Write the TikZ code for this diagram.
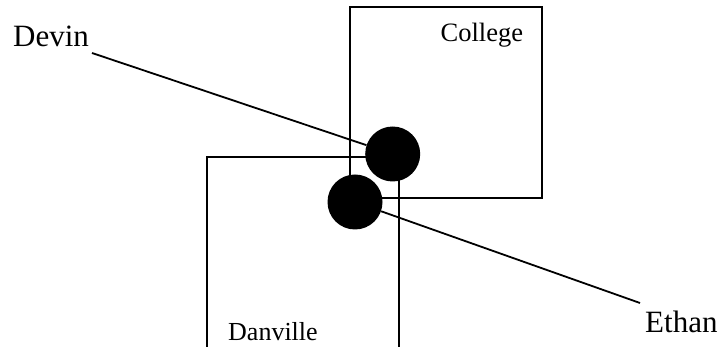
\documentclass[tikz,border=0pt]{standalone}
\usepackage{fontspec}
\setmainfont{Liberation Serif}
\begin{document}
\begin{tikzpicture}[x=1pt,y=-1pt,
  box/.style={line width=1.8pt},
  link/.style={line width=1.8pt},
  person/.style={circle,fill=black,inner sep=0pt,minimum size=55pt},
  lbl/.style={inner sep=0pt,anchor=base west}]
\useasboundingbox (0,0) rectangle (721,347);
\begin{scope}
\clip (0,0) rectangle (721,347);
% College box
\draw[box] (350,7) rectangle (542,198);
% Danville box (open bottom)
\draw[box] (207,350) -- (207,157) -- (399,157) -- (399,350);
% labels
\node[lbl,font=\fontsize{31}{31}\selectfont] (devin) at (13,47) {Devin};
\node[lbl,font=\fontsize{31}{31}\selectfont] (ethan) at (645,333) {Ethan};
\node[lbl,font=\fontsize{26.5}{26.5}\selectfont] (college) at (440.5,41.7) {College};
\node[lbl,font=\fontsize{26}{26}\selectfont] (danville) at (228,341) {Danville};
% persons
\node[person] (p1) at (392.7,154) {};
\node[person] (p2) at (355,202) {};
\coordinate (dv) at (92,53);
\coordinate (et) at (640,303);
\draw[link] (dv) -- (p1);
\draw[link] (p2) -- (et);
\end{scope}
\end{tikzpicture}
\end{document}
